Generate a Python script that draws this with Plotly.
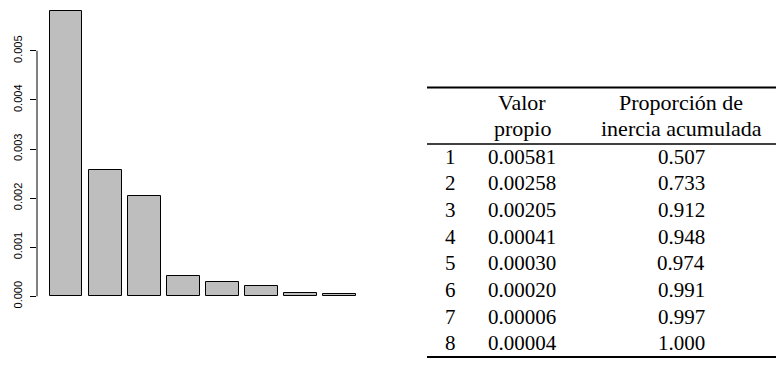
import plotly.graph_objects as go

# Eigenvalues (valor propio) and cumulative inertia proportion per dimension
dims = [1, 2, 3, 4, 5, 6, 7, 8]
eigenvalues = [0.00581, 0.00258, 0.00205, 0.00041, 0.00030, 0.00020, 0.00006, 0.00004]
cum_inertia = [0.507, 0.733, 0.912, 0.948, 0.974, 0.991, 0.997, 1.000]
y_ticks = [0.000, 0.001, 0.002, 0.003, 0.004, 0.005]
header_col2 = ["Valor", "propio"]
header_col3 = ["Proporción de", "inercia acumulada"]

W, H = 778, 367


def px_x(p):
    return p / W


def px_y(p):
    return 1 - p / H


fig = go.Figure()

# Scree-style bar chart of the eigenvalues
fig.add_trace(go.Bar(
    x=dims, y=eigenvalues, width=0.832,
    marker=dict(color="#bebebe", line=dict(color="black", width=1)),
    hoverinfo="skip", showlegend=False,
))

# Axis line only spanning the tick range (base-graphics style)
fig.add_shape(type="line", xref="paper", yref="y",
              x0=px_x(37), x1=px_x(37), y0=y_ticks[0], y1=y_ticks[-1],
              line=dict(color="black", width=1))

# Table: booktabs-style rules
rule_left, rule_right = px_x(427), px_x(776)
for ypix, w in [(87.5, 2), (144, 1.5), (357, 2)]:
    fig.add_shape(type="line", xref="paper", yref="paper",
                  x0=rule_left, x1=rule_right, y0=px_y(ypix), y1=px_y(ypix),
                  line=dict(color="black", width=w))

body_font = dict(family="Liberation Serif", size=21, color="black")
head_font = dict(family="Liberation Serif", size=22, color="black")
col_x = [450, 522, 681]

annotations = []
# Header lines
for i, (h2, h3) in enumerate(zip(header_col2, header_col3)):
    yc = 102 + i * 26
    annotations.append(dict(x=px_x(col_x[1]), y=px_y(yc), text=h2, font=head_font))
    annotations.append(dict(x=px_x(col_x[2]), y=px_y(yc), text=h3, font=head_font))

# Body rows
for k, (d, ev, ci) in enumerate(zip(dims, eigenvalues, cum_inertia)):
    yc = 156.5 + k * 26.7
    annotations.append(dict(x=px_x(col_x[0]), y=px_y(yc), text=str(d), font=body_font))
    annotations.append(dict(x=px_x(col_x[1]), y=px_y(yc), text=f"{ev:.5f}", font=body_font))
    annotations.append(dict(x=px_x(col_x[2]), y=px_y(yc), text=f"{ci:.3f}", font=body_font))

for a in annotations:
    a.update(xref="paper", yref="paper", xanchor="center", yanchor="middle",
             showarrow=False)

# Map bar centres: dimension 1 at px 66.2, 39.07 px per unit
x_scale = 39.07
x0_px, x1_px = 37, 370
xr0 = 1 - (66.2 - x0_px) / x_scale
xr1 = 8 + (x1_px - 339.7) / x_scale

# y: zero at px 296.3, 49100 px per unit
y_scale = 49100.0
ytop_px, ybot_px = 0, 310
yr0 = -(ybot_px - 296.3) / y_scale
yr1 = (296.3 - ytop_px) / y_scale

fig.update_layout(
    width=W, height=H,
    margin=dict(l=0, r=0, t=0, b=0),
    paper_bgcolor="white", plot_bgcolor="white",
    bargap=0,
    annotations=annotations,
    xaxis=dict(domain=[px_x(x0_px), px_x(x1_px)], range=[xr0, xr1],
               visible=False, fixedrange=True),
    yaxis=dict(domain=[px_y(ybot_px), px_y(ytop_px)], range=[yr0, yr1],
               showline=False, showgrid=False, zeroline=False,
               ticks="outside", ticklen=6, tickwidth=1, tickcolor="black",
               tickvals=y_ticks, ticktext=[f"{v:.3f}" for v in y_ticks],
               tickangle=-90, ticklabelstandoff=4,
               tickfont=dict(family="Liberation Sans", size=11, color="black"),
               fixedrange=True),
)

fig.write_html("out.html")
